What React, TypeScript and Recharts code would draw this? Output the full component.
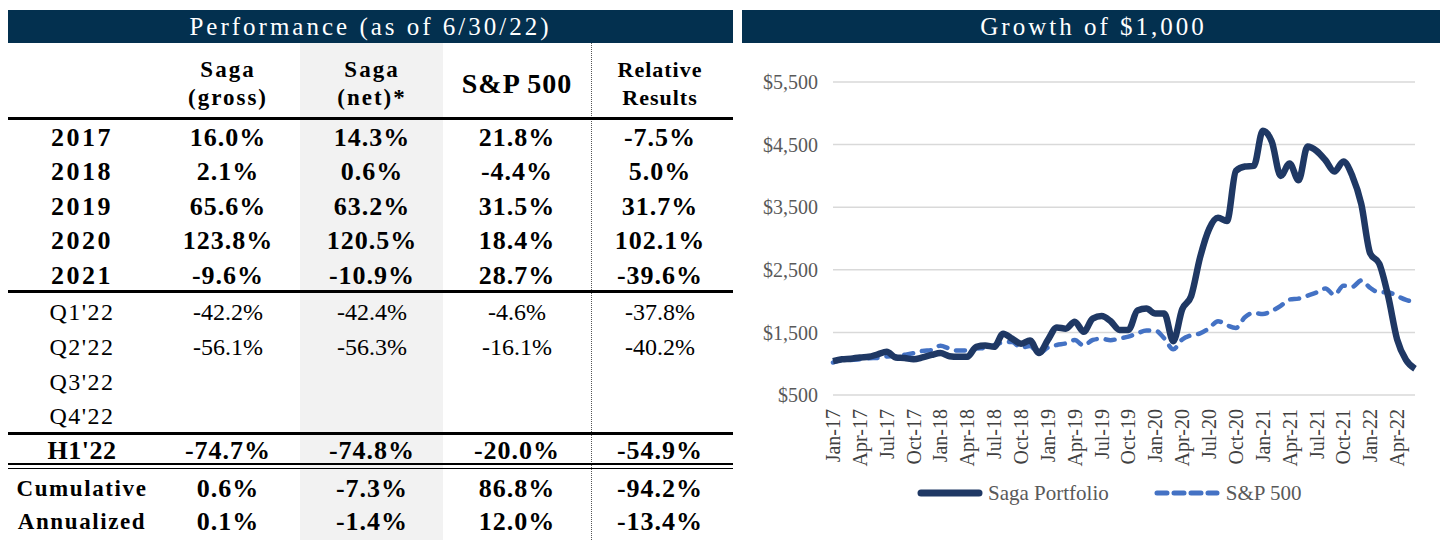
import React from 'react';
import { LineChart, Line, XAxis, YAxis, CartesianGrid, Legend } from 'recharts';

// ---------- Table data ----------
const rowLabels = ['2017', '2018', '2019', '2020', '2021', "Q1'22", "Q2'22", "Q3'22", "Q4'22", "H1'22", 'Cumulative', 'Annualized'];
const sagaGross = ['16.0%', '2.1%', '65.6%', '123.8%', '-9.6%', '-42.2%', '-56.1%', '', '', '-74.7%', '0.6%', '0.1%'];
const sagaNet = ['14.3%', '0.6%', '63.2%', '120.5%', '-10.9%', '-42.4%', '-56.3%', '', '', '-74.8%', '-7.3%', '-1.4%'];
const sp500Returns = ['21.8%', '-4.4%', '31.5%', '18.4%', '28.7%', '-4.6%', '-16.1%', '', '', '-20.0%', '86.8%', '12.0%'];
const relativeResults = ['-7.5%', '5.0%', '31.7%', '102.1%', '-39.6%', '-37.8%', '-40.2%', '', '', '-54.9%', '-94.2%', '-13.4%'];

// ---------- Chart data ----------
const months = [
  'Jan-17', 'Feb-17', 'Mar-17', 'Apr-17', 'May-17', 'Jun-17', 'Jul-17', 'Aug-17', 'Sep-17', 'Oct-17', 'Nov-17', 'Dec-17',
  'Jan-18', 'Feb-18', 'Mar-18', 'Apr-18', 'May-18', 'Jun-18', 'Jul-18', 'Aug-18', 'Sep-18', 'Oct-18', 'Nov-18', 'Dec-18',
  'Jan-19', 'Feb-19', 'Mar-19', 'Apr-19', 'May-19', 'Jun-19', 'Jul-19', 'Aug-19', 'Sep-19', 'Oct-19', 'Nov-19', 'Dec-19',
  'Jan-20', 'Feb-20', 'Mar-20', 'Apr-20', 'May-20', 'Jun-20', 'Jul-20', 'Aug-20', 'Sep-20', 'Oct-20', 'Nov-20', 'Dec-20',
  'Jan-21', 'Feb-21', 'Mar-21', 'Apr-21', 'May-21', 'Jun-21', 'Jul-21', 'Aug-21', 'Sep-21', 'Oct-21', 'Nov-21', 'Dec-21',
  'Jan-22', 'Feb-22', 'Mar-22', 'Apr-22', 'May-22', 'Jun-22',
];
const sagaPortfolio = [
  1040, 1070, 1080, 1100, 1110, 1150, 1190, 1100, 1090, 1070, 1100, 1140,
  1170, 1120, 1110, 1110, 1270, 1290, 1270, 1480, 1400, 1320, 1370, 1170,
  1380, 1580, 1560, 1670, 1510, 1720, 1760, 1680, 1540, 1540, 1850, 1880,
  1800, 1800, 1360, 1870, 2080, 2700, 3150, 3330, 3280, 4080, 4150, 4160,
  4720, 4550, 4000, 4200, 3930, 4470, 4400, 4250, 4070, 4230, 4000, 3550,
  2760, 2600, 2080, 1390, 1060, 920,
];
const sp500Growth = [
  1019, 1060, 1061, 1072, 1087, 1093, 1116, 1119, 1143, 1169, 1205, 1218,
  1288, 1240, 1209, 1214, 1243, 1251, 1297, 1340, 1348, 1256, 1281, 1166,
  1259, 1299, 1324, 1377, 1289, 1379, 1398, 1376, 1402, 1433, 1485, 1530,
  1529, 1404, 1230, 1387, 1454, 1483, 1566, 1679, 1615, 1571, 1742, 1811,
  1793, 1843, 1924, 2026, 2040, 2087, 2137, 2201, 2098, 2245, 2229, 2330,
  2210, 2140, 2140, 2080, 2020, 1980,
];
const yTicks = [500, 1500, 2500, 3500, 4500, 5500];

const chartData = months.map((m, i) => ({ month: m, saga: sagaPortfolio[i], sp: sp500Growth[i] }));

const FONT = '"Liberation Serif", "Times New Roman", serif';
const NAVY = '#03304F';

// layout (container coords)
const colCenters = [74, 220, 364, 509, 652];
const rowCenters = [130, 164, 199, 233, 268, 304, 339, 374, 408, 443, 481, 514];

const Cell = ({ cx, cy, text, style }: any) => (
  <div
    style={{
      position: 'absolute',
      left: cx - 100,
      top: cy - 18,
      width: 200,
      height: 36,
      lineHeight: '36px',
      textAlign: 'center',
      whiteSpace: 'nowrap',
      color: '#000',
      ...style,
    }}
  >
    {text}
  </div>
);

function rowStyle(i: number, isLabel: boolean) {
  if (i <= 4 || i === 9) {
    return isLabel
      ? { fontWeight: 700, fontSize: 26, letterSpacing: i === 9 ? 0.5 : 2.5 }
      : { fontWeight: 700, fontSize: 26, letterSpacing: 1 };
  }
  if (i >= 5 && i <= 8) {
    return isLabel ? { fontWeight: 400, fontSize: 24, letterSpacing: 1.5 } : { fontWeight: 400, fontSize: 24, letterSpacing: 0 };
  }
  return isLabel
    ? { fontWeight: 700, fontSize: 23, letterSpacing: 1.6 }
    : { fontWeight: 700, fontSize: 26, letterSpacing: 1 };
}

const XTick = (props: any) => {
  const { x, y, payload } = props;
  return (
    <text
      transform={`translate(${x},${y + 6}) rotate(-90)`}
      textAnchor="end"
      dy="0.35em"
      fontSize={20}
      fill="#404040"
      fontFamily={FONT}
    >
      {payload.value}
    </text>
  );
};

const LegendContent = () => (
  <div
    style={{
      display: 'flex',
      alignItems: 'center',
      height: 30,
      paddingLeft: 175,
      fontFamily: FONT,
      fontSize: 21,
      color: '#595959',
    }}
  >
    <svg width={66} height={12}>
      <line x1={4} y1={6} x2={62} y2={6} stroke="#1F3864" strokeWidth={7} strokeLinecap="round" />
    </svg>
    <span style={{ marginLeft: 5 }}>Saga Portfolio</span>
    <svg width={66} height={12} style={{ marginLeft: 45 }}>
      <line x1={3} y1={6} x2={63} y2={6} stroke="#4472C4" strokeWidth={5} strokeDasharray="10 7" strokeLinecap="round" />
    </svg>
    <span style={{ marginLeft: 6 }}>S&amp;P 500</span>
  </div>
);

export default function App() {
  const columns = [rowLabels, sagaGross, sagaNet, sp500Returns, relativeResults];
  return (
    <div style={{ position: 'relative', width: 1437, height: 532, fontFamily: FONT, background: '#fff' }}>
      {/* gray column */}
      <div style={{ position: 'absolute', left: 292, top: 35, width: 143, height: 497, background: '#F2F2F2' }} />
      {/* dotted divider */}
      <div style={{ position: 'absolute', left: 583, top: 35, width: 0, height: 497, borderLeft: '1.5px dotted #555' }} />

      {/* header bars */}
      <div
        style={{
          position: 'absolute', left: 0, top: 2, width: 725, height: 33, background: NAVY, color: '#fff',
          fontSize: 25, letterSpacing: 3, textAlign: 'center', lineHeight: '34px',
        }}
      >
        Performance (as of 6/30/22)
      </div>
      <div
        style={{
          position: 'absolute', left: 734, top: 2, width: 703, height: 33, background: NAVY, color: '#fff',
          fontSize: 25, letterSpacing: 3, textAlign: 'center', lineHeight: '34px',
        }}
      >
        Growth of $1,000
      </div>

      {/* column headers */}
      <Cell cx={colCenters[1]} cy={62} text="Saga" style={{ fontWeight: 700, fontSize: 23, letterSpacing: 2 }} />
      <Cell cx={colCenters[1]} cy={90} text="(gross)" style={{ fontWeight: 700, fontSize: 23, letterSpacing: 2 }} />
      <Cell cx={colCenters[2]} cy={62} text="Saga" style={{ fontWeight: 700, fontSize: 23, letterSpacing: 2 }} />
      <Cell cx={colCenters[2]} cy={90} text="(net)*" style={{ fontWeight: 700, fontSize: 23, letterSpacing: 2 }} />
      <Cell cx={colCenters[3]} cy={76} text="S&P 500" style={{ fontWeight: 700, fontSize: 28, letterSpacing: 1 }} />
      <Cell cx={colCenters[4]} cy={62} text="Relative" style={{ fontWeight: 700, fontSize: 22, letterSpacing: 1 }} />
      <Cell cx={colCenters[4]} cy={90} text="Results" style={{ fontWeight: 700, fontSize: 22, letterSpacing: 1 }} />

      {/* rules */}
      <div style={{ position: 'absolute', left: 0, top: 109, width: 725, height: 3, background: '#000' }} />
      <div style={{ position: 'absolute', left: 0, top: 282, width: 725, height: 2.5, background: '#000' }} />
      <div style={{ position: 'absolute', left: 0, top: 424, width: 725, height: 2.5, background: '#000' }} />
      <div style={{ position: 'absolute', left: 0, top: 455, width: 725, height: 1.5, background: '#000' }} />
      <div style={{ position: 'absolute', left: 0, top: 459.5, width: 725, height: 1.5, background: '#000' }} />

      {/* table body */}
      {columns.map((col, c) =>
        col.map((val, r) => (
          <Cell key={`${c}-${r}`} cx={colCenters[c]} cy={rowCenters[r]} text={val} style={rowStyle(r, c === 0)} />
        ))
      )}

      {/* chart */}
      <div style={{ position: 'absolute', left: 734, top: 35 }}>
        <LineChart width={703} height={465} data={chartData} margin={{ top: 39, right: 30, left: 0, bottom: 0 }}>
          <CartesianGrid horizontal vertical={false} stroke="#D9D9D9" strokeWidth={1.5} />
          <XAxis
            dataKey="month"
            interval={2}
            tick={<XTick />}
            tickLine={false}
            axisLine={false}
            height={83}
          />
          <YAxis
            domain={[500, 5500]}
            ticks={yTicks}
            width={91}
            tickLine={false}
            axisLine={false}
            tickMargin={9}
            tick={{ fontSize: 20, fill: '#595959', fontFamily: FONT }}
            tickFormatter={(v: number) => `$${v.toLocaleString('en-US')}`}
          />
          <Legend verticalAlign="bottom" content={<LegendContent />} wrapperStyle={{ left: 0, width: 703, height: 30 }} />
          <Line
            type="monotone"
            dataKey="sp"
            name="S&P 500"
            stroke="#4472C4"
            strokeWidth={4.5}
            strokeDasharray="9 9"
            strokeLinecap="round"
            dot={false}
            isAnimationActive={false}
          />
          <Line
            type="monotone"
            dataKey="saga"
            name="Saga Portfolio"
            stroke="#1F3864"
            strokeWidth={6.5}
            strokeLinejoin="round"
            dot={false}
            isAnimationActive={false}
          />
        </LineChart>
      </div>
    </div>
  );
}
